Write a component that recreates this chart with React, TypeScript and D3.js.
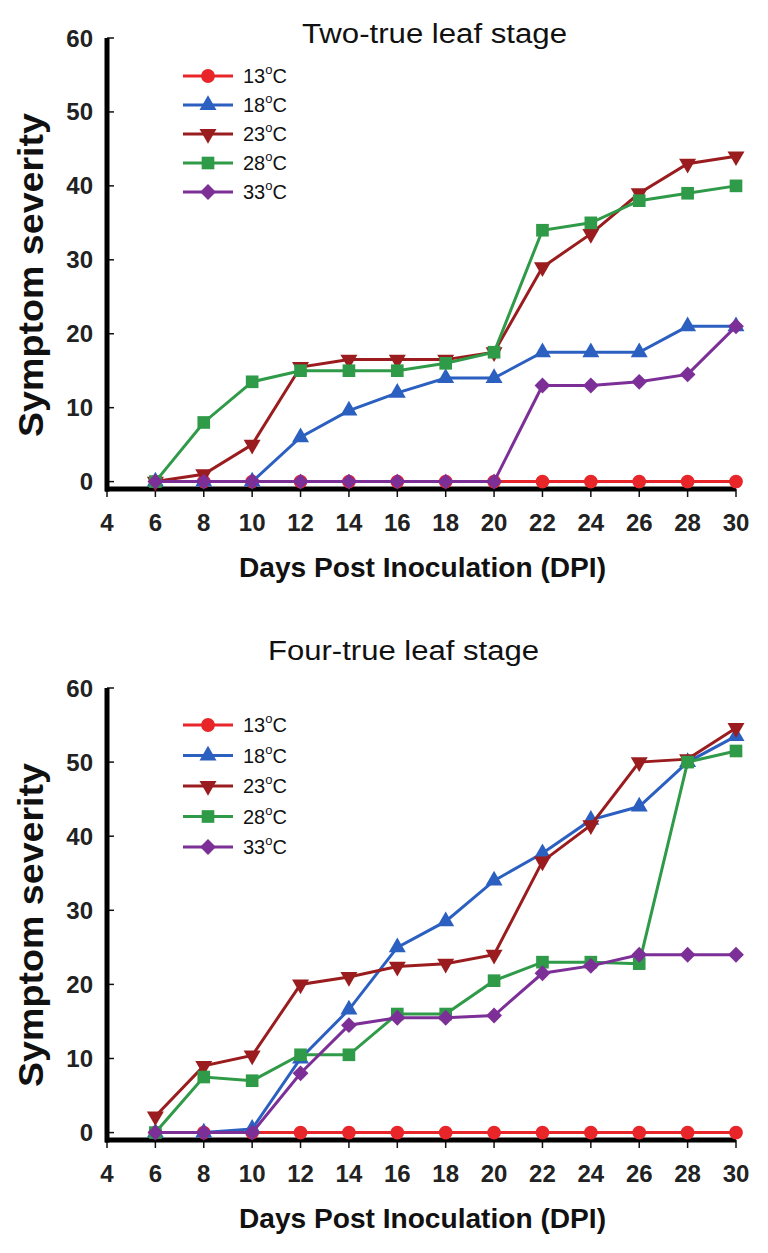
import * as d3 from "d3";
import { useEffect, useRef } from "react";

// days post inoculation
const days = [6, 8, 10, 12, 14, 16, 18, 20, 22, 24, 26, 28, 30];
const xTicks = [4, 6, 8, 10, 12, 14, 16, 18, 20, 22, 24, 26, 28, 30];
const yTicks = [0, 10, 20, 30, 40, 50, 60];
const temps = ["13", "18", "23", "28", "33"];

// Two-true leaf stage
const two13 = [0, 0, 0, 0, 0, 0, 0, 0, 0, 0, 0, 0, 0];
const two18 = [0, 0, 0, 6, 9.6, 12, 14, 14, 17.5, 17.5, 17.5, 21, 21];
const two23 = [0, 1, 5, 15.5, 16.5, 16.5, 16.5, 17.5, 29, 33.5, 39, 43, 44];
const two28 = [0, 8, 13.5, 15, 15, 15, 16, 17.5, 34, 35, 38, 39, 40];
const two33 = [0, 0, 0, 0, 0, 0, 0, 0, 13, 13, 13.5, 14.5, 21];

// Four-true leaf stage
const four13 = [0, 0, 0, 0, 0, 0, 0, 0, 0, 0, 0, 0, 0];
const four18 = [0, 0, 0.5, 10, 16.6, 25, 28.5, 34, 37.7, 42.2, 44, 50, 53.5];
const four23 = [2.2, 9, 10.4, 20, 21, 22.4, 22.8, 24, 36.6, 41.5, 50, 50.4, 54.6];
const four28 = [0, 7.5, 7, 10.5, 10.5, 16, 16, 20.5, 23, 23, 22.8, 50, 51.5];
const four33 = [0, 0, 0, 8, 14.5, 15.5, 15.5, 15.8, 21.5, 22.5, 24, 24, 24];

const colors = ["#e8262a", "#2b5fc0", "#9a1c1e", "#2f9a48", "#7d2f98"];
const shapes = ["circle", "triangle", "triangleDown", "square", "diamond"];

const panels = [
  {
    title: "Two-true leaf stage",
    titleX: 302, titleY: 43, titleW: 265,
    yTop: 38, axisY: 489, legendY: 76, legendStep: 29,
    series: [two13, two18, two23, two28, two33],
  },
  {
    title: "Four-true leaf stage",
    titleX: 268, titleY: 660, titleW: 271,
    yTop: 688, axisY: 1140, legendY: 725, legendStep: 30.5,
    series: [four13, four18, four23, four28, four33],
  },
];

const font = "'Liberation Sans', Arial, sans-serif";

function markerPath(shape: string) {
  if (shape === "circle") return d3.symbol(d3.symbolCircle, 150)()!;
  if (shape === "triangle" || shape === "triangleDown") return d3.symbol(d3.symbolTriangle, 125)()!;
  if (shape === "square") return d3.symbol(d3.symbolSquare, 160)()!;
  return d3.symbol(d3.symbolSquare, 125)()!;
}

function markerTransform(shape: string, x: number, y: number) {
  if (shape === "triangleDown") return `translate(${x},${y}) rotate(180)`;
  if (shape === "diamond") return `translate(${x},${y}) rotate(45)`;
  return `translate(${x},${y})`;
}

const App = () => {
  const ref = useRef<SVGSVGElement>(null);

  useEffect(() => {
    const svg = d3.select(ref.current);
    svg.selectAll("*").remove();

    const x = d3.scaleLinear().domain([4, 30]).range([107, 736]);

    panels.forEach((p) => {
      const y = d3.scaleLinear().domain([-1, 60]).range([p.axisY, p.yTop]);
      const g = svg.append("g");

      // title
      g.append("text")
        .attr("x", p.titleX)
        .attr("y", p.titleY)
        .attr("textLength", p.titleW)
        .attr("lengthAdjust", "spacingAndGlyphs")
        .style("font-family", font)
        .style("font-size", "27px")
        .style("fill", "#111")
        .text(p.title);

      // y axis title
      const yMid = p.yTop + 237;
      g.append("text")
        .attr("transform", `translate(43,${yMid}) rotate(-90)`)
        .attr("text-anchor", "middle")
        .attr("textLength", 324)
        .attr("lengthAdjust", "spacingAndGlyphs")
        .style("font-family", font)
        .style("font-weight", "bold")
        .style("font-size", "35px")
        .style("fill", "#111")
        .text("Symptom severity");

      // x axis title
      g.append("text")
        .attr("x", 239)
        .attr("y", p.axisY + 88)
        .attr("textLength", 367)
        .attr("lengthAdjust", "spacingAndGlyphs")
        .style("font-family", font)
        .style("font-weight", "bold")
        .style("font-size", "27px")
        .style("fill", "#111")
        .text("Days Post Inoculation (DPI)");

      // y ticks
      g.selectAll(".ytick")
        .data(yTicks)
        .enter()
        .append("line")
        .attr("x1", 107)
        .attr("x2", 114)
        .attr("y1", (d) => y(d))
        .attr("y2", (d) => y(d))
        .style("stroke", "#111")
        .style("stroke-width", 1.5);

      g.selectAll(".ylab")
        .data(yTicks)
        .enter()
        .append("text")
        .attr("x", 93)
        .attr("y", (d) => y(d))
        .attr("text-anchor", "end")
        .attr("dominant-baseline", "central")
        .style("font-family", font)
        .style("font-weight", "bold")
        .style("font-size", "24px")
        .style("fill", "#222")
        .text((d) => d);

      // x ticks
      g.selectAll(".xtick")
        .data(xTicks)
        .enter()
        .append("line")
        .attr("x1", (d) => x(d))
        .attr("x2", (d) => x(d))
        .attr("y1", p.axisY)
        .attr("y2", p.axisY + 8)
        .style("stroke", "#111")
        .style("stroke-width", 1.5);

      g.selectAll(".xlab")
        .data(xTicks)
        .enter()
        .append("text")
        .attr("x", (d) => x(d))
        .attr("y", p.axisY + 42)
        .attr("text-anchor", "middle")
        .style("font-family", font)
        .style("font-weight", "bold")
        .style("font-size", "24px")
        .style("fill", "#222")
        .text((d) => d);

      // axis lines
      g.append("line")
        .attr("x1", 107).attr("x2", 107)
        .attr("y1", p.yTop).attr("y2", p.axisY + 2.5)
        .style("stroke", "#000")
        .style("stroke-width", 5);
      g.append("line")
        .attr("x1", 105).attr("x2", x(30))
        .attr("y1", p.axisY).attr("y2", p.axisY)
        .style("stroke", "#000")
        .style("stroke-width", 5);

      // series
      const line = d3
        .line<number>()
        .x((_, i) => x(days[i]))
        .y((d) => y(d));

      p.series.forEach((vals, si) => {
        const sg = g.append("g");
        sg.append("path")
          .attr("d", line(vals))
          .style("fill", "none")
          .style("stroke", colors[si])
          .style("stroke-width", 3);
        sg.selectAll("path.m")
          .data(vals)
          .enter()
          .append("path")
          .attr("class", "m")
          .attr("d", markerPath(shapes[si]))
          .attr("transform", (d, i) => markerTransform(shapes[si], x(days[i]), y(d)))
          .style("fill", colors[si]);
      });

      // legend
      temps.forEach((t, si) => {
        const ly = p.legendY + si * p.legendStep;
        g.append("line")
          .attr("x1", 183).attr("x2", 233)
          .attr("y1", ly).attr("y2", ly)
          .style("stroke", colors[si])
          .style("stroke-width", 3);
        g.append("path")
          .attr("d", markerPath(shapes[si]))
          .attr("transform", markerTransform(shapes[si], 208, ly))
          .style("fill", colors[si]);
        const txt = g.append("text")
          .attr("x", 243)
          .attr("y", ly + 7)
          .style("font-family", font)
          .style("font-size", "20px")
          .style("fill", "#111");
        txt.append("tspan").text(t);
        txt.append("tspan").attr("dy", -9).style("font-size", "13px").text("o");
        txt.append("tspan").attr("dy", 9).text("C");
      });
    });
  }, []);

  return (
    <svg
      ref={ref}
      width={768}
      height={1253}
      style={{ position: "absolute", left: 0, top: 0, background: "#fff" }}
    ></svg>
  );
};

export default App;
